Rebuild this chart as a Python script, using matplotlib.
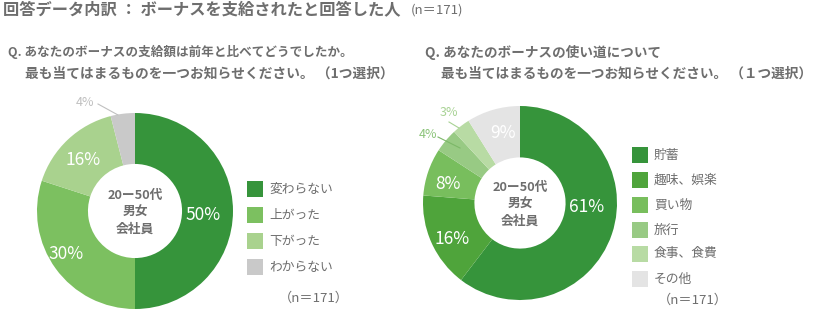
import matplotlib
matplotlib.use("Agg")
import matplotlib.pyplot as plt
from matplotlib.patches import Rectangle

plt.rcParams['font.family'] = ['Noto Sans CJK JP', 'DejaVu Sans']

W, H = 818, 311

title = "回答データ内訳 ： ボーナスを支給されたと回答した人"
n_label = "（n＝171）"

q1_lines = ["Q. あなたのボーナスの支給額は前年と比べてどうでしたか。",
            "最も当てはまるものを一つお知らせください。 （1つ選択）"]
q2_lines = ["Q. あなたのボーナスの使い道について",
            "最も当てはまるものを一つお知らせください。 （１つ選択）"]

center_lines = ["20ー50代", "男女", "会社員"]

left_labels = ["変わらない", "上がった", "下がった", "わからない"]
left_values = [50, 30, 16, 4]
left_colors = ["#36943b", "#7cc060", "#a9d28e", "#c9c9c9"]

right_labels = ["貯蓄", "趣味、娯楽", "買い物", "旅行", "食事、食費", "その他"]
right_values = [61, 16, 8, 4, 3, 9]
right_colors = ["#36943b", "#4fa43b", "#78be5d", "#98ca84", "#b8dba4", "#e4e4e4"]

TXT = "#6e6e6e"

fig = plt.figure(figsize=(W / 100, H / 100), dpi=100)
renderer = fig.canvas.get_renderer()


def px(x, y):
    return x / W, 1 - y / H


def ftext(x, y, s, **kw):
    fx, fy = px(x, y)
    kw.setdefault("color", TXT)
    kw.setdefault("va", "center")
    kw.setdefault("ha", "left")
    return fig.text(fx, fy, s, **kw)


def fit_text(x0, x1, y, s, size0=9, boost=1.0, **kw):
    t = ftext(x0, y, s, fontsize=size0, **kw)
    w = t.get_window_extent(renderer).width
    t.set_fontsize(size0 * (x1 - x0) / w * boost)
    return t


def donut(cx, cy, r, values, colors, inner=0.48):
    ax = fig.add_axes([(cx - r) / W, (H - cy - r) / H, 2 * r / W, 2 * r / H])
    ax.pie(values, colors=colors, startangle=90, counterclock=False,
           radius=1.0, wedgeprops=dict(width=1 - inner, linewidth=0))
    ax.set_xlim(-1, 1)
    ax.set_ylim(-1, 1)
    ax.set_aspect("equal")
    ax.axis("off")
    return ax


def legend(x, ys, labels, colors, size=16):
    for y, lab, col in zip(ys, labels, colors):
        fx, fy = px(x, y + size / 2)
        fig.patches.append(Rectangle((fx, fy), size / W, size / H,
                                     transform=fig.transFigure,
                                     facecolor=col, edgecolor="none"))
        ftext(x + size + 6, y, lab, fontsize=9.2)


# Title
fit_text(3, 400, 9, title, size0=11, fontweight="bold")
ftext(437, 10, "(n＝171)", fontsize=9.5, ha="center")

# Questions
fit_text(8, 332, 52, q1_lines[0], boost=1.06, fontweight="bold")
fit_text(25, 393, 74, q1_lines[1], fontweight="bold")
fit_text(425, 660, 52, q2_lines[0], fontweight="bold")
fit_text(441, 813, 74, q2_lines[1], fontweight="bold")

# Left donut
lcx, lcy, lr = 135, 211, 98
donut(lcx, lcy, lr, left_values, left_colors)
for i, s in enumerate(center_lines):
    ftext(lcx, lcy - 15 + 16.5 * i, s, fontsize=9.2, fontweight="bold", ha="center")
ftext(203, 215, f"{left_values[0]}%", fontsize=12.5, color="white", ha="center")
ftext(66, 254, f"{left_values[1]}%", fontsize=12.5, color="white", ha="center")
ftext(83, 160, f"{left_values[2]}%", fontsize=12.5, color="white", ha="center")
ftext(85, 102, f"{left_values[3]}%", fontsize=9, color="#c0c0c0", ha="center")
fig.add_artist(plt.Line2D([98 / W, 118 / W], [1 - 104 / H, 1 - 115 / H],
                          color="#c0c0c0", lw=0.8, transform=fig.transFigure))
legend(247, [189, 215, 241, 267], left_labels, left_colors)
ftext(314, 298, n_label, fontsize=9.5, ha="center")

# Right donut
rcx, rcy, rr = 520, 203, 97
donut(rcx, rcy, rr, right_values, right_colors, inner=0.47)
for i, s in enumerate(center_lines):
    ftext(rcx, rcy - 15 + 16.5 * i, s, fontsize=9.2, fontweight="bold", ha="center")
ftext(587, 207, f"{right_values[0]}%", fontsize=12.5, color="white", ha="center")
ftext(452, 239, f"{right_values[1]}%", fontsize=12.5, color="white", ha="center")
ftext(448, 184, f"{right_values[2]}%", fontsize=12.5, color="white", ha="center")
ftext(503, 133, f"{right_values[5]}%", fontsize=12.5, color="white", ha="center")
ftext(428, 134, f"{right_values[3]}%", fontsize=9, color="#8cc47a", ha="center")
ftext(449, 113, f"{right_values[4]}%", fontsize=9, color="#a8d294", ha="center")
fig.add_artist(plt.Line2D([438 / W, 460 / W], [1 - 137 / H, 1 - 148 / H],
                          color="#7cb868", lw=0.8, transform=fig.transFigure))
fig.add_artist(plt.Line2D([449 / W, 459 / W], [1 - 122 / H, 1 - 128 / H],
                          color="#a8d294", lw=0.8, transform=fig.transFigure))
legend(632, [155, 180, 205, 230, 254, 279], right_labels, right_colors)
ftext(693, 300, n_label, fontsize=9.5, ha="center")

fig.savefig("out.png", dpi=100, facecolor="white")
